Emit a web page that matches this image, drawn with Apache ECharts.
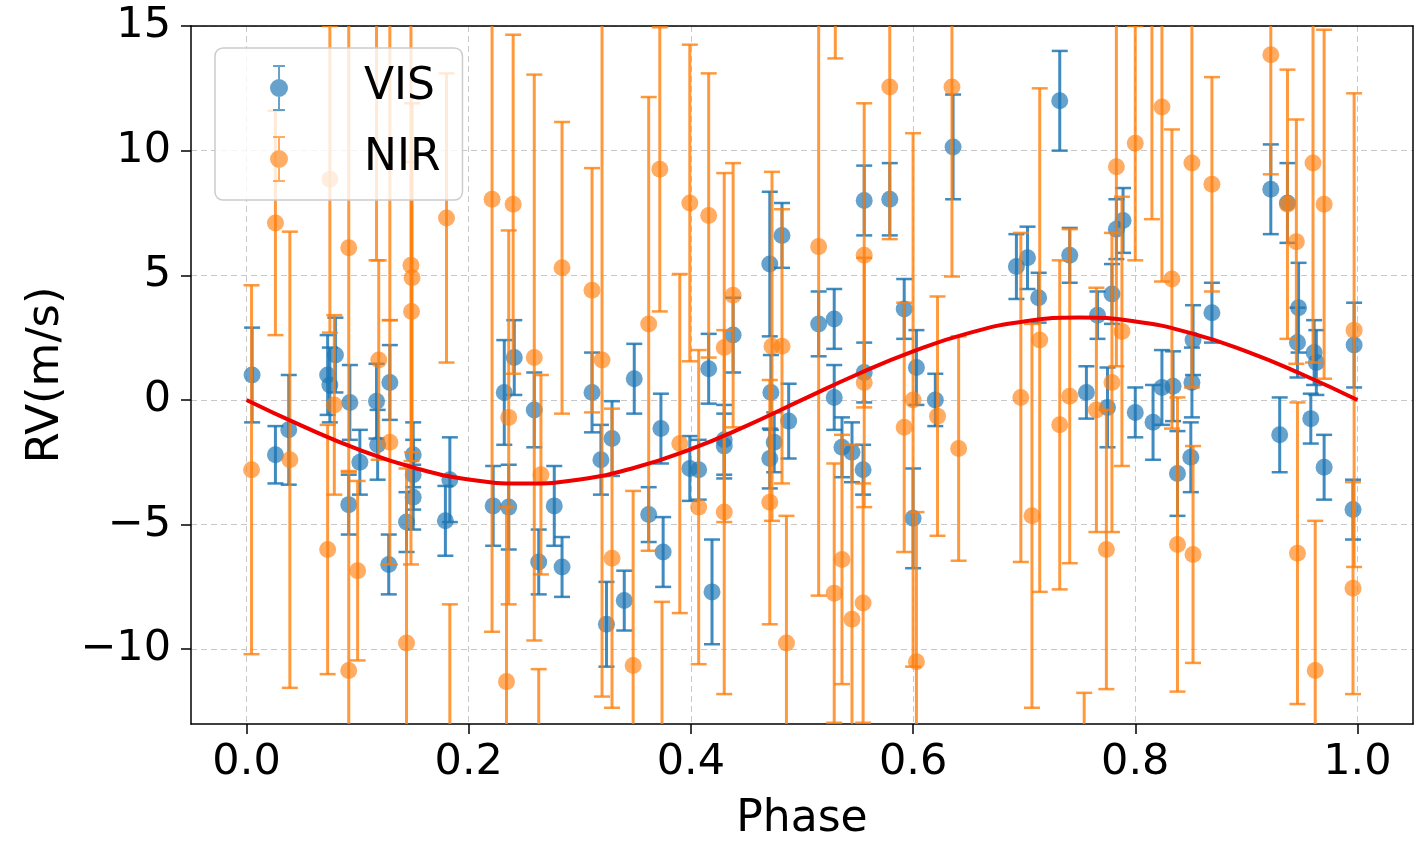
<!DOCTYPE html>
<html>
<head>
<meta charset="utf-8">
<script src="https://cdn.jsdelivr.net/npm/echarts@6/dist/echarts.min.js"></script>
<style>
  html, body { margin: 0; padding: 0; background: #fff; }
  #chart { width: 1422px; height: 844px; }
</style>
</head>
<body>
<div id="chart"></div>
<script>
// VIS 数据（相位，RV，误差）
var visPhase = [0.005, 0.026, 0.038, 0.073, 0.075, 0.080, 0.093, 0.092, 0.102, 0.117, 0.118, 0.129, 0.128, 0.144, 0.150, 0.150, 0.150,
  0.183, 0.179, 0.222, 0.232, 0.236, 0.241, 0.259, 0.263, 0.277, 0.284, 0.311, 0.319, 0.329, 0.324, 0.340, 0.349, 0.362, 0.373, 0.375,
  0.399, 0.407, 0.416, 0.419, 0.430, 0.430, 0.438, 0.471, 0.482, 0.472, 0.475, 0.471, 0.488, 0.515, 0.529, 0.529, 0.536, 0.545, 0.555,
  0.556, 0.579, 0.556, 0.592, 0.603, 0.600, 0.620, 0.636, 0.693, 0.703, 0.713, 0.732, 0.741, 0.756, 0.766, 0.775, 0.779, 0.783, 0.789,
  0.800, 0.816, 0.824, 0.834, 0.838, 0.850, 0.851, 0.852, 0.869, 0.922, 0.930, 0.937, 0.947, 0.946, 0.958, 0.961, 0.963, 0.970, 0.997, 0.996];
var visRV = [1.0, -2.2, -1.2, 1.0, 0.6, 1.8, -0.1, -4.2, -2.5, -0.05, -1.8, 0.7, -6.6, -4.9, -3.9, -3.0, -2.2,
  -3.2, -4.85, -4.25, 0.3, -4.3, 1.7, -0.4, -6.5, -4.25, -6.7, 0.3, -2.4, -1.55, -9.0, -8.05, 0.85, -4.6, -1.15, -6.1,
  -2.75, -2.8, 1.25, -7.7, -1.6, -1.85, 2.6, 5.45, 6.6, 0.3, -1.7, -2.35, -0.85, 3.05, 3.25, 0.1, -1.9, -2.1, -2.8,
  8.0, 8.05, 1.1, 3.65, 1.3, -4.75, 0.0, 10.15, 5.35, 5.7, 4.1, 12.0, 5.8, 0.3, 3.4, -0.3, 4.25, 6.85, 7.2,
  -0.5, -0.9, 0.5, 0.55, -2.95, -2.3, 0.7, 2.4, 3.5, 8.45, -1.4, 7.9, 3.7, 2.3, -0.75, 1.9, 1.5, -2.7, 2.2, -4.4];
var visErr = [1.9, 1.15, 2.2, 1.6, 1.5, 1.5, 1.5, 1.2, 1.3, 1.5, 1.4, 1.5, 1.2, 1.2, 1.3, 1.4, 1.3,
  1.7, 1.4, 1.6, 2.1, 1.7, 1.5, 1.5, 1.3, 1.6, 1.2, 1.6, 1.4, 1.5, 1.7, 1.2, 1.4, 1.1, 1.4, 1.4,
  1.3, 1.2, 1.4, 2.1, 1.4, 1.3, 1.5, 2.9, 1.3, 1.5, 1.2, 1.2, 1.5, 1.3, 1.2, 1.3, 1.2, 1.2, 1.0,
  1.4, 1.45, 1.2, 1.2, 1.5, 2.0, 1.05, 2.1, 1.3, 1.25, 1.0, 2.0, 1.1, 1.05, 0.95, 1.6, 1.2, 1.2, 1.3,
  1.0, 1.5, 1.5, 1.4, 1.7, 1.4, 1.4, 1.4, 1.2, 1.8, 1.5, 1.6, 1.8, 1.4, 1.0, 1.3, 1.3, 1.3, 1.7, 1.2];

// NIR 数据
var nirPhase = [0.0045, 0.026, 0.039, 0.075, 0.073, 0.079, 0.092, 0.092, 0.100, 0.119, 0.117, 0.129, 0.129, 0.144, 0.148, 0.149, 0.1485,
  0.180, 0.183, 0.221, 0.240, 0.234, 0.236, 0.259, 0.265, 0.263, 0.284, 0.311, 0.320, 0.329, 0.348, 0.362, 0.372, 0.374,
  0.390, 0.399, 0.407, 0.416, 0.430, 0.430, 0.438, 0.471, 0.473, 0.482, 0.486, 0.515, 0.530, 0.529, 0.536, 0.545, 0.556,
  0.556, 0.555, 0.579, 0.592, 0.600, 0.603, 0.622, 0.635, 0.641, 0.697, 0.707, 0.714, 0.732, 0.741, 0.754, 0.765, 0.774,
  0.779, 0.783, 0.788, 0.800, 0.815, 0.824, 0.833, 0.838, 0.851, 0.852, 0.869, 0.922, 0.937, 0.945, 0.946, 0.960, 0.962,
  0.970, 0.997, 0.996];
var nirRV = [-2.8, 7.1, -2.4, 8.85, -6.0, -0.2, 6.1, -10.85, -6.85, 1.6, 18.5, -1.7, 19.0, -9.75, 5.4, 4.9, 3.55,
  7.3, -14.5, 8.05, 7.85, -11.3, -0.7, 1.7, -3.0, -16.0, 5.3, 4.4, 1.6, -6.35, -10.65, 3.05, 9.25, -15.0,
  -1.75, 7.9, -4.3, 7.4, 2.1, -4.5, 4.2, -4.1, 2.15, 2.15, -9.75, 6.15, 20.0, -7.75, -6.4, -8.8, 5.8,
  0.7, -8.15, 12.55, -1.1, 0.0, -10.5, -0.65, 12.55, -1.95, 0.1, -4.65, 2.4, -1.0, 0.15, -17.0, -0.4, -6.0,
  0.7, 9.35, 2.75, 10.3, 17.0, 11.75, 4.85, -5.8, 9.5, -6.2, 8.65, 13.85, 7.85, 6.35, -6.15, 9.5, -10.85,
  7.85, 2.8, -7.55];
var nirErr = [7.4, 4.5, 9.15, 6.15, 5.0, 3.6, 9.0, 8.0, 3.6, 4.0, 12.9, 4.9, 15.8, 7.0, 12.0, 7.0, 6.0,
  5.8, 6.3, 17.35, 6.8, 7.0, 7.5, 11.35, 4.0, 5.2, 5.85, 4.9, 13.5, 6.0, 7.0, 9.1, 5.7, 6.9,
  6.8, 6.35, 6.3, 5.7, 7.0, 7.3, 5.3, 4.9, 7.0, 5.5, 5.1, 14.0, 6.3, 5.2, 5.0, 7.0, 6.1,
  5.0, 4.8, 6.1, 5.0, 10.7, 6.0, 4.8, 7.6, 4.5, 6.6, 7.7, 10.1, 6.6, 6.7, 5.25, 4.9, 5.6,
  6.0, 8.0, 5.4, 4.7, 9.75, 7.0, 6.0, 5.9, 9.0, 4.35, 4.3, 4.8, 5.4, 4.9, 6.05, 8.0, 6.0,
  7.0, 9.5, 4.25];

// 模型曲线（红线）
var modelPhase = [0, 0.05, 0.1, 0.15, 0.2, 0.25, 0.3, 0.35, 0.4, 0.45, 0.5, 0.55, 0.6, 0.65, 0.7, 0.75, 0.8, 0.85, 0.9, 0.95, 1.0];
var modelRV = [0, -1.04, -1.97, -2.71, -3.19, -3.35, -3.19, -2.71, -1.97, -1.04, 0, 1.03, 1.95, 2.68, 3.15, 3.31, 3.15, 2.68, 1.95, 1.03, 0];

var xTicks = [0, 0.2, 0.4, 0.6, 0.8, 1.0];
var yTicks = [-10, -5, 0, 5, 10, 15];

var VIS_COLOR = 'rgba(31,119,180,0.85)';
var NIR_COLOR = 'rgba(255,127,14,0.8)';
var FONT = 'DejaVu Sans';

function points(xs, ys) {
  return xs.map(function (x, i) { return [x, ys[i]]; });
}
function bars(xs, ys, es) {
  return xs.map(function (x, i) { return [x, ys[i] - es[i], ys[i] + es[i]]; });
}

function errRenderer(color) {
  return function (params, api) {
    var x = api.value(0);
    var top = api.coord([x, api.value(2)]);
    var bot = api.coord([x, api.value(1)]);
    var w = 8;
    var style = { stroke: color, lineWidth: 3, fill: null };
    var capStyle = { stroke: color, lineWidth: 2.5, fill: null };
    return {
      type: 'group',
      children: [
        { type: 'line', shape: { x1: top[0], y1: top[1], x2: bot[0], y2: bot[1] }, style: style },
        { type: 'line', shape: { x1: top[0] - w, y1: top[1], x2: top[0] + w, y2: top[1] }, style: capStyle },
        { type: 'line', shape: { x1: bot[0] - w, y1: bot[1], x2: bot[0] + w, y2: bot[1] }, style: capStyle }
      ]
    };
  };
}

// 图例图标：带误差棒的圆点
var legendIcon = 'path://M4,0h12v2h-12z M9,0h2v46h-2z M4,44h12v2h-12z M1,23a9,9 0 1,1 18,0a9,9 0 1,1 -18,0z';

// 上边框和右边框（不带刻度）
var frameAxis = {
  show: true,
  axisLine: { show: true, onZero: false, lineStyle: { color: '#000', width: 1.5 } },
  axisTick: { show: false },
  axisLabel: { show: false },
  splitLine: { show: false }
};

var myChart = echarts.init(document.getElementById('chart'));
myChart.setOption({
  animation: false,
  grid: {
    left: 191,
    right: 9,
    top: 26,
    bottom: 120,
    outerBoundsMode: 'none'
  },
  legend: {
    orient: 'vertical',
    left: 215,
    top: 48,
    z: 20,
    padding: [17, 22, 18, 55],
    itemWidth: 20,
    itemHeight: 46,
    itemGap: 25,
    backgroundColor: 'rgba(255,255,255,0.8)',
    borderColor: '#cccccc',
    borderWidth: 1.5,
    borderRadius: 8,
    selectedMode: false,
    textStyle: {
      fontFamily: FONT,
      fontSize: 44,
      color: '#000',
      padding: [6, 0, 0, 70]
    },
    data: [
      { name: 'VIS', icon: legendIcon },
      { name: 'NIR', icon: legendIcon }
    ]
  },
  xAxis: [{
    type: 'value',
    min: -0.05,
    max: 1.05,
    name: 'Phase',
    nameLocation: 'middle',
    nameGap: 74,
    nameTextStyle: { fontFamily: FONT, fontSize: 44, color: '#000' },
    axisLine: { show: true, onZero: false, lineStyle: { color: '#000', width: 1.5 } },
    axisTick: { show: true, length: 10, lineStyle: { color: '#000', width: 1.5 }, customValues: xTicks },
    axisLabel: {
      fontFamily: FONT, fontSize: 43, color: '#000', margin: 17,
      customValues: xTicks,
      formatter: function (v) { return v.toFixed(1); }
    },
    splitLine: { show: true, lineStyle: { color: '#c8c8c8', type: [6, 4], width: 1 } }
  }, Object.assign({ type: 'value', position: 'top', min: -0.05, max: 1.05 }, frameAxis)],
  yAxis: [{
    type: 'value',
    min: -13,
    max: 15,
    name: 'RV(m/s)',
    nameLocation: 'middle',
    nameGap: 122,
    nameTextStyle: { fontFamily: FONT, fontSize: 45, color: '#000' },
    axisLine: { show: true, onZero: false, lineStyle: { color: '#000', width: 1.5 } },
    axisTick: { show: true, length: 10, lineStyle: { color: '#000', width: 1.5 }, customValues: yTicks },
    axisLabel: {
      fontFamily: FONT, fontSize: 43, color: '#000', margin: 20,
      customValues: yTicks,
      formatter: function (v) { return v < 0 ? '\u2212' + Math.abs(v) : String(v); }
    },
    splitLine: { show: true, lineStyle: { color: '#c8c8c8', type: [6, 4], width: 1 } }
  }, Object.assign({ type: 'value', position: 'right', min: -13, max: 15 }, frameAxis)],
  series: [
    {
      name: 'VIS err',
      type: 'custom',
      clip: true,
      silent: true,
      z: 2,
      renderItem: errRenderer(VIS_COLOR),
      encode: { x: 0, y: [1, 2] },
      data: bars(visPhase, visRV, visErr)
    },
    {
      name: 'VIS',
      type: 'scatter',
      clip: true,
      silent: true,
      z: 3,
      symbolSize: 17,
      itemStyle: { color: VIS_COLOR },
      data: points(visPhase, visRV)
    },
    {
      name: 'NIR err',
      type: 'custom',
      clip: true,
      silent: true,
      z: 4,
      renderItem: errRenderer(NIR_COLOR),
      encode: { x: 0, y: [1, 2] },
      data: bars(nirPhase, nirRV, nirErr)
    },
    {
      name: 'NIR',
      type: 'scatter',
      clip: true,
      silent: true,
      z: 5,
      symbolSize: 17,
      itemStyle: { color: NIR_COLOR },
      data: points(nirPhase, nirRV)
    },
    {
      name: 'model',
      type: 'line',
      z: 6,
      silent: true,
      smooth: true,
      showSymbol: false,
      lineStyle: { color: '#ee0000', width: 4 },
      data: points(modelPhase, modelRV)
    }
  ]
});
</script>
</body>
</html>
